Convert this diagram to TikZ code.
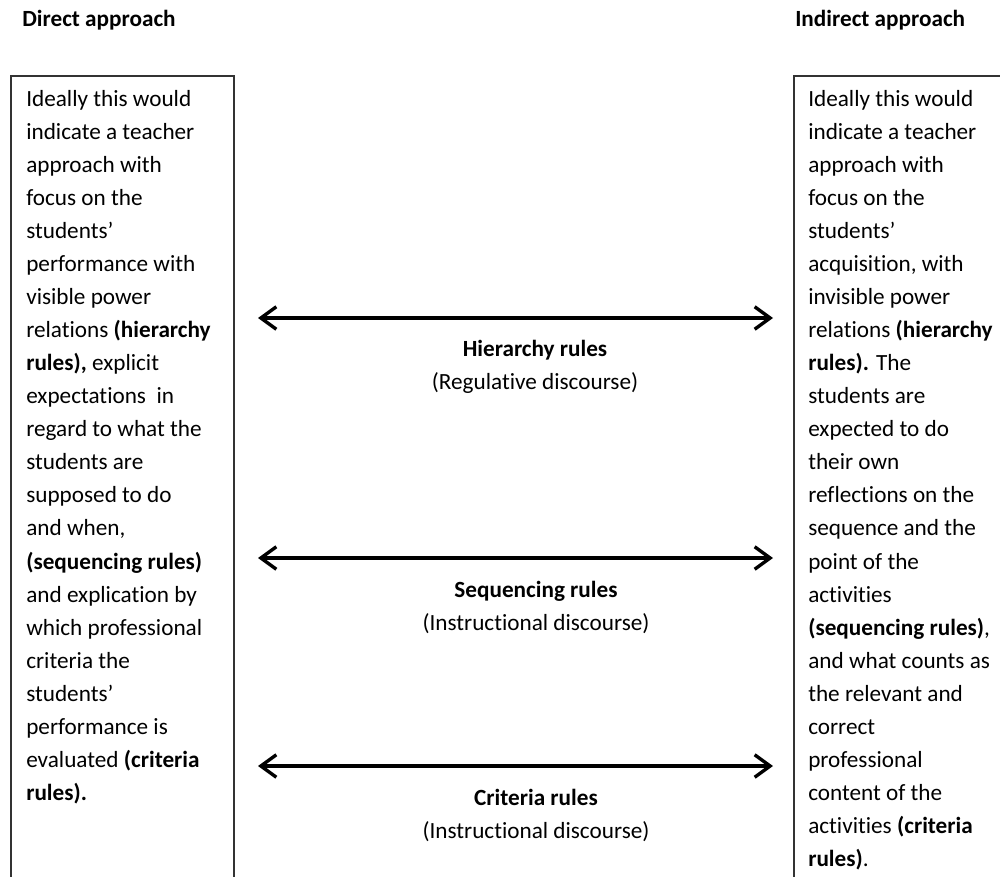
\documentclass[tikz,border=0pt]{standalone}
\usepackage{fontspec}
\setmainfont{Carlito}[Ligatures=CommonOff]
\usepackage{tikz}
\usetikzlibrary{arrows.meta}
\tikzset{>={Straight Barb[length=11pt,width=16pt,line width=2.4pt]}}
\tikzset{frame/.style = {shape=rectangle,draw=black!80,line width=1.4pt,inner sep=0pt}}
\tikzset{heading/.style = {font=\fontsize{16.5}{23.5}\selectfont\bfseries,inner sep=0pt}}
\tikzset{bodytext/.style = {font=\fontsize{16.5}{23.5}\selectfont,align=left,inner sep=0pt}}
\tikzset{rulelabel/.style = {font=\fontsize{16.5}{23.5}\selectfont,align=center,inner sep=0pt}}
\tikzset{twoway/.style = {<->,line width=2.4pt}}

\begin{document}
\begin{tikzpicture}[x=0.025cm,y=-0.025cm]
    \useasboundingbox (0,0) rectangle (1000,876);

    \node[heading,anchor=base west] (directhead) at (22,26) {Direct approach};
    \node[heading,anchor=base west] (indirecthead) at (795,26) {Indirect approach};

    \node[frame,anchor=north west,minimum width=5.575cm,minimum height=22cm] (direct) at (10,75) {};
    \node[frame,anchor=north west,minimum width=6cm,minimum height=22cm] (indirect) at (793,75) {};

    \node[bodytext,anchor=north west] (directtext) at (26,90) {%
        Ideally this would\\
        indicate a teacher\\
        approach with\\
        focus on the\\
        students’\\
        performance with\\
        visible power\\
        relations \textbf{(hierarchy}\\
        \textbf{rules),} explicit\\
        expectations\ \ in\\
        regard to what the\\
        students are\\
        supposed to do\\
        and when,\\
        \textbf{(sequencing rules)}\\
        and explication by\\
        which professional\\
        criteria the\\
        students’\\
        performance is\\
        evaluated \textbf{(criteria}\\
        \textbf{rules).}};

    \node[bodytext,anchor=north west] (indirecttext) at (808,90) {%
        Ideally this would\\
        indicate a teacher\\
        approach with\\
        focus on the\\
        students’\\
        acquisition, with\\
        invisible power\\
        relations \textbf{(hierarchy}\\
        \textbf{rules).} The\\
        students are\\
        expected to do\\
        their own\\
        reflections on the\\
        sequence and the\\
        point of the\\
        activities\\
        \textbf{(sequencing rules)},\\
        and what counts as\\
        the relevant and\\
        correct\\
        professional\\
        content of the\\
        activities \textbf{(criteria}\\
        \textbf{rules)}.};

    \node[rulelabel] (hier) at (535,367) {\textbf{Hierarchy rules}\\(Regulative discourse)};
    \node[rulelabel] (seq) at (536,607) {\textbf{Sequencing rules}\\(Instructional discourse)};
    \node[rulelabel] (crit) at (536,815) {\textbf{Criteria rules}\\(Instructional discourse)};

    \coordinate (hierL) at (258,318);
    \coordinate (hierR) at (773,318);
    \coordinate (seqL) at (258,558);
    \coordinate (seqR) at (773,558);
    \coordinate (critL) at (258,766);
    \coordinate (critR) at (773,766);

    \draw[twoway] (hierL) -- (hierR);
    \draw[twoway] (seqL) -- (seqR);
    \draw[twoway] (critL) -- (critR);
\end{tikzpicture}
\end{document}
